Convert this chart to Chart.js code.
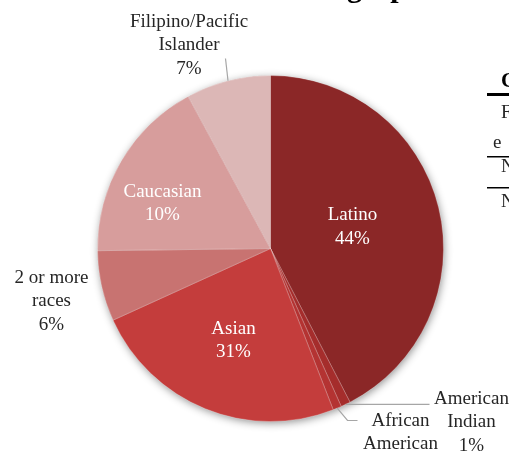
<!DOCTYPE html>
<html>
<head>
<meta charset="utf-8">
<script src="https://cdn.jsdelivr.net/npm/chart.js@4.4.1/dist/chart.umd.min.js"></script>
<style>
  html, body { margin: 0; padding: 0; background: #ffffff; overflow: hidden; }
  #wrap { position: relative; width: 509px; height: 452px; }
  canvas { display: block; }
</style>
</head>
<body>
<div id="wrap"><canvas id="c" width="509" height="452" style="width:509px;height:452px"></canvas></div>
<script>
// ---- data ----
const categories = ['Latino', 'American Indian', 'African American', 'Asian', '2 or more races', 'Caucasian', 'Filipino/Pacific Islander'];
const sliceValues = [42.4, 0.9, 0.8, 24.1, 6.6, 17.3, 7.9];          // slice sizes as drawn (percent of circle)
const percentLabels = ['44%', '1%', '1%', '31%', '6%', '10%', '7%'];  // printed data labels
const labelLines = [['Latino'], ['American', 'Indian'], ['African', 'American'], ['Asian'], ['2 or more', 'races'], ['Caucasian'], ['Filipino/Pacific', 'Islander']];
const titleText = 'Demographics';
const tableFragments = ['C', 'F', 'e', 'N', 'N'];

// ---- styling ----
const sliceColors = ['#8B2727', '#A52D2C', '#B43332', '#C43D3C', '#C87371', '#D79D9C', '#DCB7B6'];
const FONT = '"Liberation Serif", "Times New Roman", serif';
const R0 = 173;
const labelPlacement = [
  { dx: 82 / R0, dy: -21.5 / R0, inside: true },
  { dx: 201 / R0, dy: 174 / R0, inside: false, leader: [[159 / R0, 155 / R0]] , hLeader: true },
  { dx: 130 / R0, dy: 196 / R0, inside: false, leader: [[77 / R0, 172 / R0], [87 / R0, 172 / R0]] },
  { dx: -37 / R0, dy: 92 / R0, inside: true },
  { dx: -219 / R0, dy: 53 / R0, inside: false },
  { dx: -108 / R0, dy: -45 / R0, inside: true },
  { dx: -81.5 / R0, dy: -203 / R0, inside: false, leader: [[-45 / R0, -190 / R0]] }
];

const shadowPlugin = {
  id: 'pieShadow',
  beforeDatasetsDraw(chart) {
    const arc = chart.getDatasetMeta(0).data[0];
    if (!arc) return;
    const { x, y, outerRadius } = arc.getProps(['x', 'y', 'outerRadius'], true);
    const ctx = chart.ctx;
    ctx.save();
    ctx.shadowColor = 'rgba(0,0,0,0.45)';
    ctx.shadowBlur = 8;
    ctx.shadowOffsetX = 1;
    ctx.shadowOffsetY = 2;
    ctx.beginPath();
    ctx.arc(x, y, outerRadius - 0.5, 0, Math.PI * 2);
    ctx.fillStyle = sliceColors[0];
    ctx.fill();
    ctx.restore();
  }
};

const labelPlugin = {
  id: 'sliceLabels',
  afterDatasetsDraw(chart) {
    const ctx = chart.ctx;
    const meta = chart.getDatasetMeta(0);
    meta.data.forEach((arc, i) => {
      const { x, y, startAngle, endAngle, outerRadius: r } = arc.getProps(['x', 'y', 'startAngle', 'endAngle', 'outerRadius'], true);
      const p = labelPlacement[i];
      const mid = (startAngle + endAngle) / 2;
      ctx.save();
      if (p.leader) {
        ctx.beginPath();
        ctx.moveTo(x + Math.cos(mid) * r, y + Math.sin(mid) * r);
        p.leader.forEach((pt, k) => {
          if (p.hLeader && k === 0) {
            ctx.lineTo(x + pt[0] * r, y + Math.sin(mid) * r);
          } else {
            ctx.lineTo(x + pt[0] * r, y + pt[1] * r);
          }
        });
        ctx.strokeStyle = '#A6A6A6';
        ctx.lineWidth = 1.2;
        ctx.stroke();
      }
      const lines = labelLines[i].concat([percentLabels[i]]);
      const lh = 23.5;
      const cx = x + p.dx * r, cy = y + p.dy * r;
      ctx.font = '19px ' + FONT;
      ctx.textAlign = 'center';
      ctx.textBaseline = 'middle';
      ctx.fillStyle = p.inside ? '#FFFFFF' : '#262626';
      lines.forEach((t, k) => ctx.fillText(t, cx, cy + (k - (lines.length - 1) / 2) * lh));
      ctx.restore();
    });
  },
  afterDraw(chart) {
    const ctx = chart.ctx;
    ctx.save();
    // cropped page title (only descenders visible)
    ctx.font = 'bold 30px ' + FONT;
    ctx.textBaseline = 'alphabetic';
    ctx.textAlign = 'left';
    ctx.fillStyle = '#000';
    const pre = ctx.measureText('Demo').width;
    ctx.fillText(titleText, 347 - pre, -3);
    // cropped table at right edge
    ctx.fillStyle = '#000';
    ctx.fillRect(487, 93, 22, 3);
    ctx.fillRect(487, 156, 22, 1.5);
    ctx.fillRect(487, 187, 22, 1.5);
    ctx.font = 'bold 21px ' + FONT;
    ctx.fillText(tableFragments[0], 501, 87);
    ctx.font = '19px ' + FONT;
    ctx.fillStyle = '#262626';
    ctx.fillText(tableFragments[1], 501, 118);
    ctx.fillText(tableFragments[2], 493, 148);
    ctx.fillText(tableFragments[3], 501, 172);
    ctx.fillText(tableFragments[4], 501, 207);
    ctx.restore();
  }
};

new Chart(document.getElementById('c'), {
  type: 'pie',
  data: {
    labels: categories,
    datasets: [{
      data: sliceValues,
      backgroundColor: sliceColors,
      borderColor: 'rgba(255,255,255,0.25)',
      borderWidth: 1
    }]
  },
  options: {
    responsive: false,
    animation: false,
    devicePixelRatio: 1,
    layout: { padding: { left: 97, right: 65, top: 75, bottom: 30 } },
    plugins: { legend: { display: false }, tooltip: { enabled: false } }
  },
  plugins: [shadowPlugin, labelPlugin]
});
</script>
</body>
</html>
